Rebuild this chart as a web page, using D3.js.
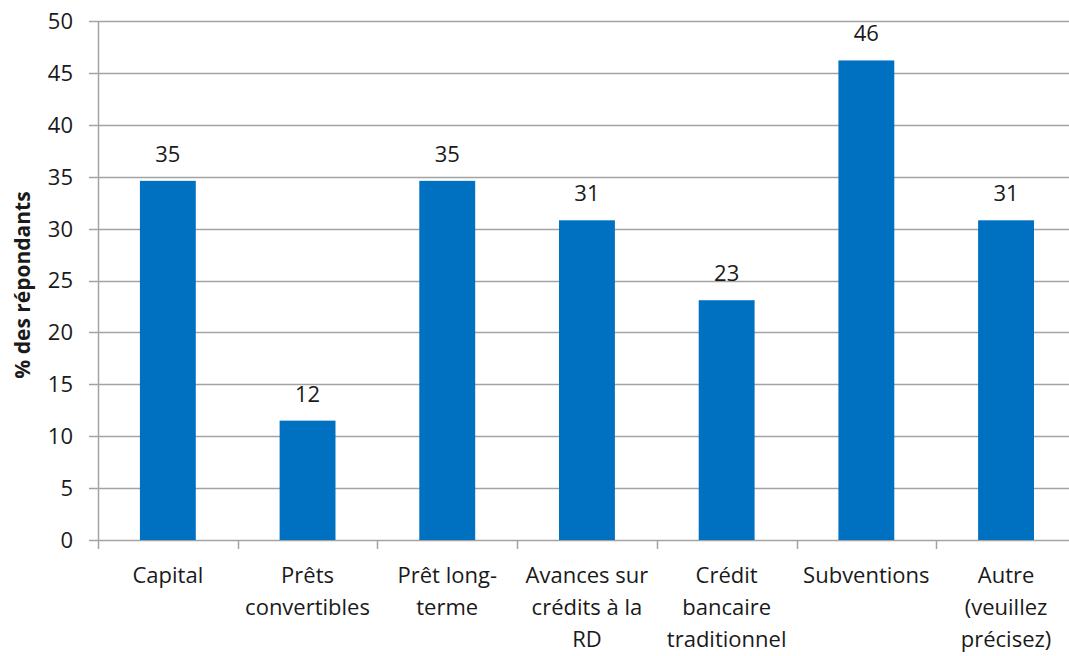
<!DOCTYPE html>
<html>
<head>
<meta charset="utf-8">
<script src="https://cdn.jsdelivr.net/npm/d3@7"></script>
<style>
  html, body { margin: 0; padding: 0; background: #fff; }
  svg { display: block; }
  text { font-family: "Open Sans", "Noto Sans", sans-serif; fill: #1a1a1a; }
</style>
</head>
<body>
<svg id="chart" width="1069" height="656"></svg>
<script>
// Share of respondents by type of financing (n = 26)
const categories = [
  ["Capital"],
  ["Prêts", "convertibles"],
  ["Prêt long-", "terme"],
  ["Avances sur", "crédits à la", "RD"],
  ["Crédit", "bancaire", "traditionnel"],
  ["Subventions"],
  ["Autre", "(veuillez", "précisez)"]
];
const values = [34.6, 11.5, 34.6, 30.8, 23.1, 46.2, 30.8];
const yTicks = [0, 5, 10, 15, 20, 25, 30, 35, 40, 45, 50];
const yTitle = "% des répondants";

const svg = d3.select("#chart");
const margin = { left: 98, top: 21, bottom: 116 };
const step = 139.7;
const plotRight = margin.left + step * categories.length;
const plotBottom = 656 - margin.bottom;

const keys = categories.map((c, i) => i);
const x = d3.scaleBand()
  .domain(keys)
  .range([margin.left, plotRight])
  .paddingInner(0.6)
  .paddingOuter(0.3);

const y = d3.scaleLinear()
  .domain([0, 50])
  .range([plotBottom, margin.top]);

// horizontal gridlines with short ticks left of the axis
const grid = svg.append("g").attr("class", "grid");
grid.selectAll("line")
  .data(yTicks)
  .join("line")
  .attr("x1", margin.left - 9)
  .attr("x2", plotRight)
  .attr("y1", d => Math.round(y(d)) + 0.5)
  .attr("y2", d => Math.round(y(d)) + 0.5)
  .attr("stroke", "#a3a3a3")
  .attr("stroke-width", 1.5);

// y axis labels
svg.append("g")
  .selectAll("text")
  .data(yTicks)
  .join("text")
  .attr("x", 73)
  .attr("y", d => y(d))
  .attr("dy", "0.36em")
  .attr("text-anchor", "end")
  .attr("font-size", 22)
  .text(d => d);

// vertical axis line
svg.append("line")
  .attr("x1", margin.left + 0.5).attr("x2", margin.left + 0.5)
  .attr("y1", margin.top).attr("y2", plotBottom + 9)
  .attr("stroke", "#a3a3a3").attr("stroke-width", 1.5);

// category boundary ticks below the baseline
const bounds = keys.slice(1).map(k => x(k) - x.step() * x.paddingInner() / 2);
svg.append("g")
  .selectAll("line")
  .data(bounds)
  .join("line")
  .attr("x1", d => Math.round(d) + 0.5)
  .attr("x2", d => Math.round(d) + 0.5)
  .attr("y1", plotBottom)
  .attr("y2", plotBottom + 9)
  .attr("stroke", "#a3a3a3")
  .attr("stroke-width", 1.5);

// bars
svg.append("g")
  .selectAll("rect")
  .data(values)
  .join("rect")
  .attr("x", (d, i) => x(i))
  .attr("width", x.bandwidth())
  .attr("y", d => y(d))
  .attr("height", d => y(0) - y(d))
  .attr("fill", "#0070c0");

// value labels
svg.append("g")
  .selectAll("text")
  .data(values)
  .join("text")
  .attr("x", (d, i) => x(i) + x.bandwidth() / 2)
  .attr("y", d => y(d) - 19)
  .attr("text-anchor", "middle")
  .attr("font-size", 22)
  .text(d => d3.format(".0f")(d));

// category labels
const catG = svg.append("g")
  .selectAll("text")
  .data(categories)
  .join("text")
  .attr("x", (d, i) => x(i) + x.bandwidth() / 2)
  .attr("y", plotBottom + 43)
  .attr("text-anchor", "middle")
  .attr("font-size", 22);
catG.selectAll("tspan")
  .data(d => d)
  .join("tspan")
  .attr("x", function () { return this.parentNode.getAttribute("x"); })
  .attr("dy", (d, i) => i === 0 ? 0 : 32)
  .text(d => d);

// y axis title
svg.append("text")
  .attr("transform", "translate(30, 285) rotate(-90)")
  .attr("text-anchor", "middle")
  .attr("font-size", 21)
  .attr("font-weight", "bold")
  .text(yTitle);
</script>
</body>
</html>
